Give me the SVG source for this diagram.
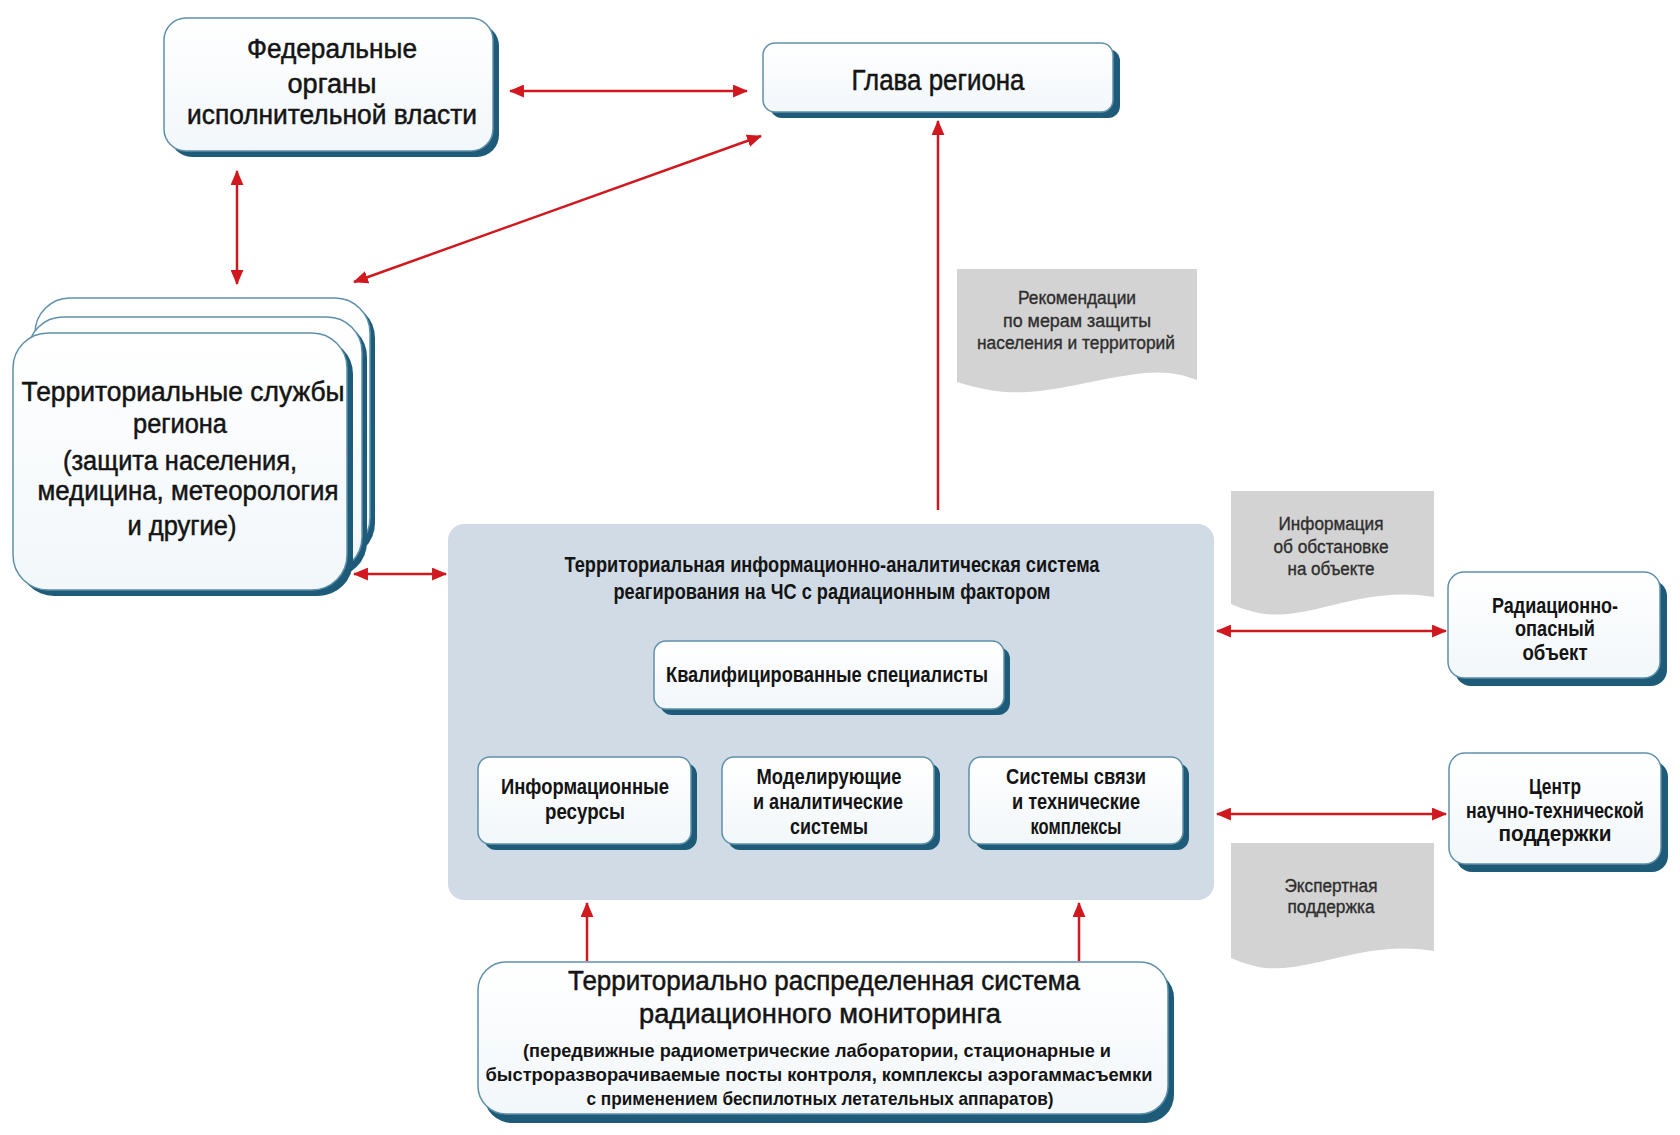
<svg xmlns="http://www.w3.org/2000/svg" width="1680" height="1135" viewBox="0 0 1680 1135">
<defs>
<linearGradient id="wg" x1="0" y1="0" x2="0" y2="1"><stop offset="0" stop-color="#ffffff"/><stop offset="1" stop-color="#f2f7fa"/></linearGradient>
<marker id="ah" viewBox="0 0 14 12" refX="13" refY="6" markerWidth="15" markerHeight="13" markerUnits="userSpaceOnUse" orient="auto-start-reverse"><path d="M0,0 L14,6 L0,12 Z" fill="#d0181e"/></marker>
</defs>
<style>
.box{fill:url(#wg);stroke:#5f90aa;stroke-width:1.5}
.sh{fill:#1d5b79}
.doc{fill:#d3d3d3}
.con{stroke:#d0181e;stroke-width:2.5;fill:none}
text{text-anchor:middle;fill:#141414}
.r{font-family:"Liberation Sans",Arial,sans-serif;font-size:27px;stroke:#141414;stroke-width:0.5}
.b{font-family:"Liberation Sans Narrow","Liberation Sans",Arial,sans-serif;font-weight:bold;font-size:22px}
.g{font-family:"Liberation Sans Narrow","Liberation Sans",Arial,sans-serif;fill:#2e2e2e;font-size:18px;stroke:#2e2e2e;stroke-width:0.35}
</style>
<rect width="1680" height="1135" fill="#ffffff"/>

<g id="connectors">
<line class="con" x1="510" y1="91" x2="747" y2="91" marker-start="url(#ah)" marker-end="url(#ah)"/>
<line class="con" x1="237" y1="171" x2="237" y2="284" marker-start="url(#ah)" marker-end="url(#ah)"/>
<line class="con" x1="354" y1="282" x2="761" y2="136" marker-start="url(#ah)" marker-end="url(#ah)"/>
<line class="con" x1="938" y1="510" x2="938" y2="121" marker-end="url(#ah)"/>
<line class="con" x1="354" y1="574" x2="446" y2="574" marker-start="url(#ah)" marker-end="url(#ah)"/>
<line class="con" x1="1217" y1="631" x2="1446" y2="631" marker-start="url(#ah)" marker-end="url(#ah)"/>
<line class="con" x1="1217" y1="814" x2="1446" y2="814" marker-start="url(#ah)" marker-end="url(#ah)"/>
<line class="con" x1="587" y1="961" x2="587" y2="903" marker-end="url(#ah)"/>
<line class="con" x1="1079" y1="961" x2="1079" y2="903" marker-end="url(#ah)"/>
</g>

<g id="federal">
<rect class="sh" x="170" y="24" width="329" height="133" rx="22"/>
<rect class="box" x="164" y="18" width="329" height="133" rx="22"/>
<text class="r" x="332" y="58" textLength="170" lengthAdjust="spacingAndGlyphs">Федеральные</text>
<text class="r" x="332" y="93" textLength="89" lengthAdjust="spacingAndGlyphs">органы</text>
<text class="r" x="332" y="124" textLength="290" lengthAdjust="spacingAndGlyphs">исполнительной власти</text>
</g>

<g id="glava">
<rect class="sh" x="770" y="49" width="350" height="69" rx="12"/>
<rect class="box" x="763" y="43" width="350" height="69" rx="12"/>
<text class="r" x="938" y="90" style="font-size:29px" textLength="173" lengthAdjust="spacingAndGlyphs">Глава региона</text>
</g>

<g id="territorial">
<rect class="sh" x="40" y="303" width="335" height="255" rx="35"/>
<rect class="box" x="35" y="298" width="335" height="255" rx="35"/>
<rect class="sh" x="33" y="322" width="334" height="255" rx="35"/>
<rect class="box" x="28" y="317" width="334" height="255" rx="35"/>
<rect class="sh" x="19" y="339" width="334" height="257" rx="35"/>
<rect class="box" x="13" y="333" width="334" height="257" rx="35"/>
<text class="r" x="183" y="401" textLength="323" lengthAdjust="spacingAndGlyphs">Территориальные службы</text>
<text class="r" x="180" y="433" textLength="94" lengthAdjust="spacingAndGlyphs">региона</text>
<text class="r" x="180" y="470" textLength="234" lengthAdjust="spacingAndGlyphs">(защита населения,</text>
<text class="r" x="188" y="500" textLength="301" lengthAdjust="spacingAndGlyphs">медицина, метеорология</text>
<text class="r" x="182" y="535" textLength="109" lengthAdjust="spacingAndGlyphs">и другие)</text>
</g>

<g id="doc-recommend">
<path class="doc" d="M957,269 L1197,269 L1197,380 C1182,374 1166,371 1145,373 C1095,378 1050,395 1005,392 C985,390 970,386 957,382 Z"/>
<text class="g" x="1077" y="304" textLength="118" lengthAdjust="spacingAndGlyphs">Рекомендации</text>
<text class="g" x="1077" y="327" textLength="148" lengthAdjust="spacingAndGlyphs">по мерам защиты</text>
<text class="g" x="1076" y="349" textLength="198" lengthAdjust="spacingAndGlyphs">населения и территорий</text>
</g>

<g id="doc-info">
<path class="doc" d="M1231,491 L1434,491 L1434,597 C1410,593 1385,594 1360,599 C1320,607 1295,617 1265,614 C1252,612 1240,608 1231,604 Z"/>
<text class="g" x="1331" y="530" textLength="105" lengthAdjust="spacingAndGlyphs">Информация</text>
<text class="g" x="1331" y="553" textLength="115" lengthAdjust="spacingAndGlyphs">об обстановке</text>
<text class="g" x="1331" y="575" textLength="87" lengthAdjust="spacingAndGlyphs">на объекте</text>
</g>

<g id="doc-expert">
<path class="doc" d="M1231,843 L1434,843 L1434,951 C1410,947 1385,948 1360,953 C1320,961 1295,970 1265,968 C1252,966 1240,962 1231,958 Z"/>
<text class="g" x="1331" y="892" textLength="93" lengthAdjust="spacingAndGlyphs">Экспертная</text>
<text class="g" x="1331" y="913" textLength="87" lengthAdjust="spacingAndGlyphs">поддержка</text>
</g>

<g id="center-system">
<rect x="448" y="524" width="766" height="376" rx="16" fill="#d0dbe5"/>
<text class="b" x="832" y="572" textLength="535" lengthAdjust="spacingAndGlyphs">Территориальная информационно-аналитическая система</text>
<text class="b" x="832" y="599" textLength="437" lengthAdjust="spacingAndGlyphs">реагирования на ЧС с радиационным фактором</text>
</g>

<g id="qualified">
<rect class="sh" x="660" y="647" width="350" height="68" rx="12"/>
<rect class="box" x="654" y="641" width="350" height="68" rx="12"/>
<text class="b" x="827" y="682" textLength="322" lengthAdjust="spacingAndGlyphs">Квалифицированные специалисты</text>
</g>

<g id="info-resources">
<rect class="sh" x="484" y="763" width="213" height="87" rx="12"/>
<rect class="box" x="478" y="757" width="213" height="87" rx="12"/>
<text class="b" x="585" y="794" textLength="168" lengthAdjust="spacingAndGlyphs">Информационные</text>
<text class="b" x="585" y="819" textLength="80" lengthAdjust="spacingAndGlyphs">ресурсы</text>
</g>

<g id="modeling">
<rect class="sh" x="728" y="763" width="212" height="87" rx="12"/>
<rect class="box" x="722" y="757" width="212" height="87" rx="12"/>
<text class="b" x="829" y="784" textLength="145" lengthAdjust="spacingAndGlyphs">Моделирующие</text>
<text class="b" x="828" y="809" textLength="150" lengthAdjust="spacingAndGlyphs">и аналитические</text>
<text class="b" x="829" y="834" textLength="78" lengthAdjust="spacingAndGlyphs">системы</text>
</g>

<g id="comms">
<rect class="sh" x="975" y="763" width="214" height="87" rx="12"/>
<rect class="box" x="969" y="757" width="214" height="87" rx="12"/>
<text class="b" x="1076" y="784" textLength="140" lengthAdjust="spacingAndGlyphs">Системы связи</text>
<text class="b" x="1076" y="809" textLength="128" lengthAdjust="spacingAndGlyphs">и технические</text>
<text class="b" x="1076" y="834" textLength="91" lengthAdjust="spacingAndGlyphs">комплексы</text>
</g>

<g id="radiation-object">
<rect class="sh" x="1455" y="580" width="212" height="106" rx="16"/>
<rect class="box" x="1448" y="572" width="212" height="106" rx="16"/>
<text class="b" x="1555" y="613" textLength="126" lengthAdjust="spacingAndGlyphs">Радиационно-</text>
<text class="b" x="1555" y="636" textLength="80" lengthAdjust="spacingAndGlyphs">опасный</text>
<text class="b" x="1555" y="660" textLength="65" lengthAdjust="spacingAndGlyphs">объект</text>
</g>

<g id="ntp-center">
<rect class="sh" x="1456" y="761" width="212" height="111" rx="16"/>
<rect class="box" x="1449" y="753" width="212" height="111" rx="16"/>
<text class="b" x="1555" y="794" textLength="52" lengthAdjust="spacingAndGlyphs">Центр</text>
<text class="b" x="1555" y="818" textLength="178" lengthAdjust="spacingAndGlyphs">научно-технической</text>
<text class="b" x="1555" y="841" textLength="113" lengthAdjust="spacingAndGlyphs">поддержки</text>
</g>

<g id="monitoring">
<rect class="sh" x="484" y="970" width="690" height="153" rx="28"/>
<rect class="box" x="478" y="962" width="690" height="152" rx="28"/>
<text class="r" x="824" y="990" textLength="512" lengthAdjust="spacingAndGlyphs">Территориально распределенная система</text>
<text class="r" x="820" y="1023" textLength="362" lengthAdjust="spacingAndGlyphs">радиационного мониторинга</text>
<text class="b" x="817" y="1057" style="font-size:19px" textLength="588" lengthAdjust="spacingAndGlyphs">(передвижные радиометрические лаборатории, стационарные и</text>
<text class="b" x="819" y="1081" style="font-size:19px" textLength="667" lengthAdjust="spacingAndGlyphs">быстроразворачиваемые посты контроля, комплексы аэрогаммасъемки</text>
<text class="b" x="820" y="1105" style="font-size:19px" textLength="467" lengthAdjust="spacingAndGlyphs">с применением беспилотных летательных аппаратов)</text>
</g>
</svg>
